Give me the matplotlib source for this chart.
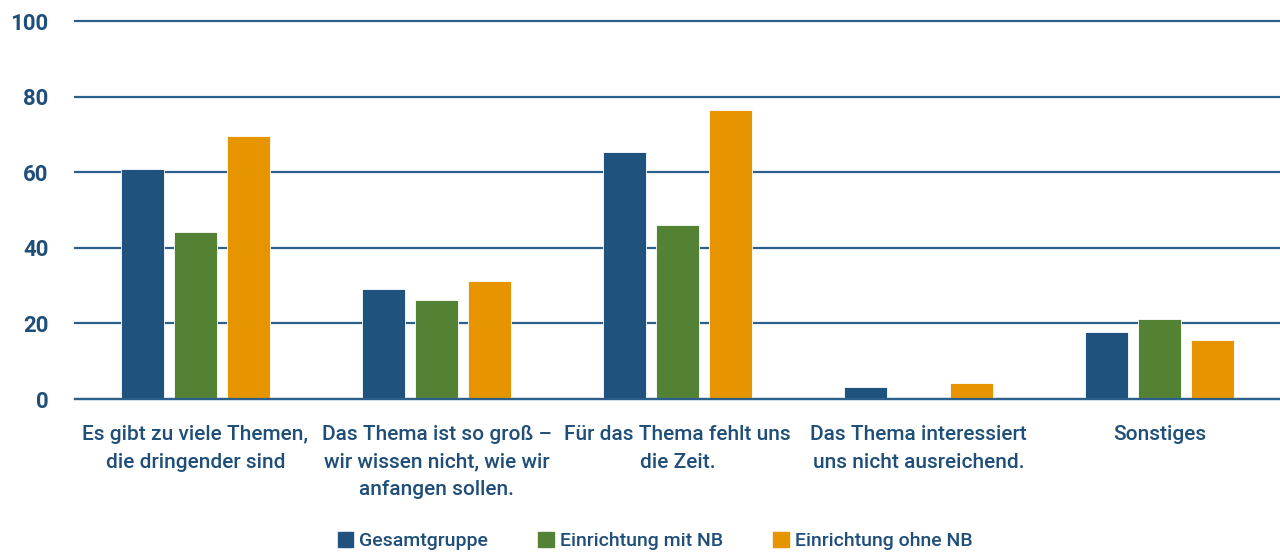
import numpy as np
import matplotlib
matplotlib.use("Agg")
import matplotlib.pyplot as plt
from matplotlib.patches import Patch

categories = [
    "Es gibt zu viele Themen,\ndie dringender sind",
    "Das Thema ist so groß –\nwir wissen nicht, wie wir\nanfangen sollen.",
    "Für das Thema fehlt uns\ndie Zeit.",
    "Das Thema interessiert\nuns nicht ausreichend.",
    "Sonstiges",
]
series_names = ["Gesamtgruppe", "Einrichtung mit NB", "Einrichtung ohne NB"]
gesamt = [60.8, 29.2, 65.3, 3.3, 17.6]
mit_nb = [44.3, 26.2, 45.9, 0.0, 21.2]
ohne_nb = [69.6, 31.2, 76.5, 4.2, 15.6]
y_ticks = [0, 20, 40, 60, 80, 100]

colors = ["#1F527C", "#548235", "#E69500"]
text_col = "#1F4E79"
grid_col = "#2D5F8B"

plt.rcParams["font.family"] = ["Roboto", "DejaVu Sans"]

fig = plt.figure(figsize=(12.8, 5.57), dpi=100)
ax = fig.add_axes([75 / 1280, 1 - 399 / 557, 1205 / 1280, 378 / 557])

x = np.arange(len(categories))
step = 0.22
width = 0.175
for i, (vals, col, name) in enumerate(zip([gesamt, mit_nb, ohne_nb], colors, series_names)):
    ax.bar(x + (i - 1) * step, vals, width, color=col, edgecolor="white",
           linewidth=0.6, zorder=3, label=name)

ax.set_xlim(-0.5, len(categories) - 0.5)
ax.set_ylim(0, 100)
ax.set_yticks(y_ticks)
ax.yaxis.grid(True, color=grid_col, lw=1.6, zorder=0)
for gl in ax.get_ygridlines():
    gl.set_clip_on(False)
ax.set_axisbelow(True)
for s in ["top", "right", "left"]:
    ax.spines[s].set_visible(False)
ax.spines["bottom"].set_color(grid_col)
ax.spines["bottom"].set_linewidth(1.6)
ax.spines["bottom"].set_zorder(4)
ax.tick_params(axis="both", length=0, colors=text_col)
ax.set_yticklabels([str(t) for t in y_ticks], fontsize=16, fontweight="bold", color=text_col)
ax.tick_params(axis="y", pad=19)
ax.set_xticks(x)
ax.set_xticklabels(categories, fontsize=15, fontweight="medium", color=text_col,
                   linespacing=1.55, va="top")
ax.tick_params(axis="x", pad=19)

handles = [Patch(color=c) for c in colors]
fig.legend(handles, series_names, loc="center", bbox_to_anchor=(655 / 1280, 1 - 541 / 557),
           ncol=3, frameon=False, prop={"size": 14, "weight": "medium"},
           handlelength=0.8, handleheight=0.8,
           handletextpad=0.3, columnspacing=2.6, labelcolor=text_col)

fig.savefig("out.png", dpi=100)
